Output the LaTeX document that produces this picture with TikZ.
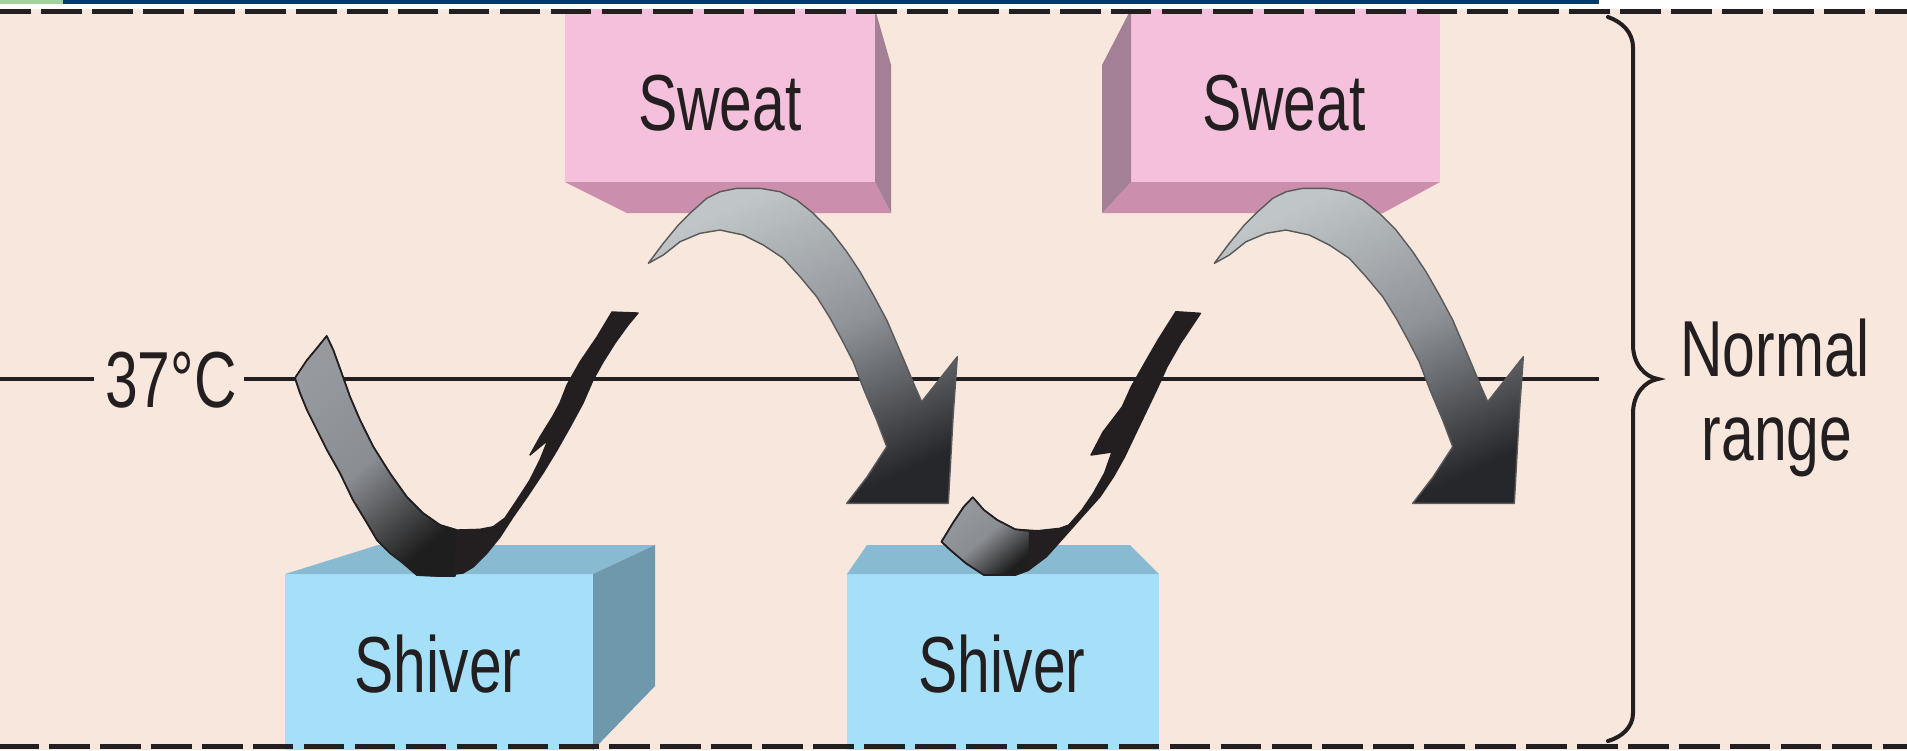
\documentclass[tikz,border=0pt]{standalone}
\usepackage{fontspec}
\newfontfamily\lab{Liberation Sans}[FakeStretch=0.74]
\definecolor{bgpeach}{HTML}{F7E7DD}
\definecolor{stripgreen}{HTML}{9ED29A}
\definecolor{navy}{HTML}{003A70}
\definecolor{inkc}{HTML}{231F20}
\definecolor{pinkfront}{HTML}{F4C0DC}
\definecolor{pinkbottom}{HTML}{CC8EAD}
\definecolor{pinkside}{HTML}{A38096}
\definecolor{bluefront}{HTML}{A6E0F8}
\definecolor{bluetop}{HTML}{88BBD1}
\definecolor{blueside}{HTML}{6E98AB}
\definecolor{arclight}{HTML}{C0C5C7}
\definecolor{arcmid}{HTML}{8F9398}
\definecolor{arcdark}{HTML}{26272A}
\definecolor{tailgray}{HTML}{969A9F}
\definecolor{tailmid}{HTML}{8A8D92}
\definecolor{taildark}{HTML}{1E1E1E}
\tikzset{
  lbl/.style={font={\lab\fontsize{22.6}{27}\selectfont}, text=inkc, inner sep=0pt, anchor=base},
  rule/.style={draw=inkc, line width=1.28pt},
  frame/.style={draw=inkc, line width=1.42pt, dash pattern=on 0.405cm off 0.104cm},
  bracestyle/.style={draw=inkc, line width=1.14pt, line cap=round},
  sweatshade/.style={top color=arclight, bottom color=arcdark, middle color=arcmid, shading angle=25, draw=black!65, line width=0.4pt, line join=round},
  darkstroke/.style={fill=inkc, draw=inkc, line width=0.4pt, line join=round},
  tailshade/.style={top color=tailgray, bottom color=taildark, middle color=tailmid, shading angle=40, draw=inkc, line width=0.5pt, line join=round},
  sweatarrow/.pic={
    \shadedraw[sweatshade] (648.3,263.3) -- (663.3,243.3) -- (678.3,225) -- (691.7,211.7) -- (706.7,198.3) -- (720,191.7) -- (736.7,188.3) -- (760,188.3) -- (780,191.7) -- (796.7,200) -- (813.3,213.3) -- (830,230) -- (846.7,251.7) -- (860,271.7) -- (873.3,295) -- (886.7,320) -- (896.7,343.3) -- (906.7,366.7) -- (915,386.7) -- (921.7,401.7) -- (957.3,356.7) -- (953.3,413.3) -- (948.3,503.3) -- (846.7,503.3) -- (867,477) -- (886.7,446.7) -- (876.7,420) -- (864,390) -- (853.3,362) -- (842,340) -- (830,318) -- (816.7,296.7) -- (800,276.7) -- (783.3,258.3) -- (763.3,245) -- (743.3,235) -- (720,230) -- (700,233.3) -- (680,241.7) -- (663.3,255) -- cycle;
  }
}
\begin{document}
\begin{tikzpicture}[x=0.01cm,y=-0.01cm]
\useasboundingbox (0,0) rectangle (1907,750);
\fill[white] (0,0) rectangle (1907,750);
\fill[bgpeach] (0,9) rectangle (1907,750);
\fill[stripgreen] (0,0) rectangle (63,4);
\fill[navy] (63,0) rectangle (1599,4);

% 37 C reference line
\node[lbl] (t37) at (171,407) {37°C};
\coordinate (lineL) at (0,379);
\coordinate (lineA) at (94,379);
\coordinate (lineB) at (244,379);
\coordinate (lineR) at (1599,379);
\draw[rule] (lineL) -- (lineA);
\draw[rule] (lineB) -- (lineR);

% brace
\draw[bracestyle] (1608,17) .. controls (1622,22) and (1633,32) .. (1633,48) -- (1633,345) .. controls (1633,364) and (1645,377) .. (1658,379) .. controls (1645,381) and (1633,394) .. (1633,413) -- (1633,713) .. controls (1633,727) and (1622,737) .. (1608,741);
\node[lbl] (normal) at (1775,376) {Normal};
\node[lbl] (range) at (1777,460) {range};

% Sweat box 1
\fill[pinkfront] (565,9) rectangle (875,182);
\fill[pinkbottom] (565,182) -- (875,182) -- (891,213) -- (627,213) -- cycle;
\fill[pinkside] (875,9) -- (891,65) -- (891,213) -- (875,182) -- cycle;
% Sweat box 2
\fill[pinkfront] (1131,9) rectangle (1440,182);
\fill[pinkbottom] (1131,182) -- (1440,182) -- (1383,213) -- (1102,213) -- cycle;
\fill[pinkside] (1131,9) -- (1102,65) -- (1102,213) -- (1131,182) -- cycle;
% Shiver box 1
\fill[bluefront] (285,574) rectangle (593,750);
\fill[bluetop] (285,574) -- (593,574) -- (655,545) -- (378,545) -- cycle;
\fill[blueside] (593,574) -- (655,545) -- (655,686) -- (593,750) -- cycle;
% Shiver box 2
\fill[bluefront] (847,574) rectangle (1159,750);
\fill[bluetop] (847,574) -- (1159,574) -- (1130,545) -- (867,545) -- cycle;

% frame dashes
\draw[frame, dash phase=0.095cm] (0,11.5) -- (1907,11.5);
\draw[frame, dash phase=0.017cm] (0,746.5) -- (1907,746.5);

% Sweat arrows
\pic at (0,0) {sweatarrow};
\pic at (566,0) {sweatarrow};

% Shiver arrow A
\filldraw[darkstroke] (326.7,336) -- (333.3,350) -- (341.7,373.3) -- (350,396.7) -- (360,420) -- (373.3,446.7) -- (390,473.3) -- (406.7,496.7) -- (423.3,513.3) -- (440,525) -- (456.7,530) -- (480,529.3) -- (493.3,526.7) -- (505,518) -- (517,500) -- (530,480) -- (540,460) -- (548,440) -- (530,455) -- (540,437) -- (553,416) -- (560,403) -- (567,385) -- (580,362) -- (597,337) -- (612,312) -- (638,313) -- (628,325) -- (615,343) -- (603,362) -- (593,380) -- (583,403) -- (570,427) -- (557,450) -- (543,473) -- (527,497) -- (513,517) -- (500,537) -- (487,553) -- (473,567) -- (463,573) -- (440,576) -- (417,575) -- (403,563) -- (390,553) -- (377,540) -- (367,523) -- (353,500) -- (340,473) -- (327,450) -- (317,430) -- (307,410) -- (300,393) -- (295,378) -- (307,360) -- (317,348) -- cycle;
\shadedraw[tailshade] (326.7,336) -- (333.3,350) -- (341.7,373.3) -- (350,396.7) -- (360,420) -- (373.3,446.7) -- (390,473.3) -- (406.7,496.7) -- (423.3,513.3) -- (440,525) -- (456.7,530) -- (455,576) -- (440,576) -- (417,575) -- (403,563) -- (390,553) -- (377,540) -- (367,523) -- (353,500) -- (340,473) -- (327,450) -- (317,430) -- (307,410) -- (300,393) -- (295,378) -- (307,360) -- (317,348) -- cycle;

% Shiver arrow B
\filldraw[darkstroke] (972.8,497.3) -- (983.9,510) -- (997.3,520) -- (1015.2,529.3) -- (1037.5,530.7) -- (1059.8,528.3) -- (1068.8,525) -- (1082,510) -- (1093.3,493.3) -- (1104.5,473.3) -- (1112,452) -- (1091,455) -- (1103,432) -- (1116,415) -- (1122.3,406.7) -- (1131.3,386.7) -- (1144.6,363.3) -- (1158,340) -- (1175.9,311.7) -- (1200.4,313.3) -- (1193.8,323.3) -- (1180.4,343.3) -- (1167,366.7) -- (1158,386.7) -- (1146.9,410) -- (1135.7,433.3) -- (1124.6,456.7) -- (1113.4,476.7) -- (1100,496.7) -- (1082,516.7) -- (1064.3,536.7) -- (1046.4,556.7) -- (1028.6,570) -- (1015.2,575) -- (983.9,575) -- (966,563.3) -- (950.4,550) -- (941.5,541.7) -- (952.7,523.3) -- (963.8,506.7) -- cycle;
\shadedraw[tailshade] (972.8,497.3) -- (983.9,510) -- (997.3,520) -- (1015.2,529.3) -- (1030,531) -- (1028.6,570) -- (1015.2,575) -- (983.9,575) -- (966,563.3) -- (950.4,550) -- (941.5,541.7) -- (952.7,523.3) -- (963.8,506.7) -- cycle;

% box labels
\node[lbl] (sweat1) at (720,130) {Sweat};
\node[lbl] (sweat2) at (1284,130) {Sweat};
\node[lbl] (shiver1) at (438,692) {Shiver};
\node[lbl] (shiver2) at (1002,692) {Shiver};
\end{tikzpicture}
\end{document}
